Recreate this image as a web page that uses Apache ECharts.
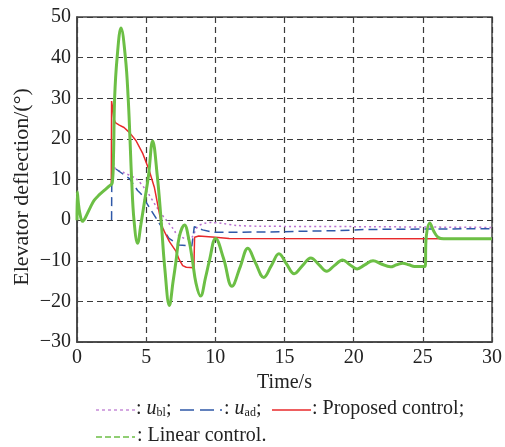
<!DOCTYPE html>
<html><head><meta charset="utf-8">
<script src="https://cdn.jsdelivr.net/npm/echarts@6/dist/echarts.min.js"></script>
<style>html,body{margin:0;padding:0;background:#fff}#c{width:505px;height:447px}</style>
</head><body><div id="c"></div>
<script>
// ---- data ----
var xTicks = [0, 5, 10, 15, 20, 25, 30];
var yTicks = [-30, -20, -10, 0, 10, 20, 30, 40, 50];
var uBl = [[2.72,13.0],[2.8,12.5],[3.3,11.8],[4.26,10.2],[5.0,7.3],[5.95,2.2],[6.55,-0.4],[6.92,-2.0],[7.16,-3.2],[7.52,-4.1],[7.9,-4.6],[8.3,-4.3],[8.72,-1.6],[9.2,-0.8],[9.7,-0.6],[10.5,-0.8],[11.5,-1.3],[13.3,-1.5],[20,-1.6],[30,-1.8]];
var uAd = [[2.5,0],[2.52,14.8],[2.62,14.8],[2.81,12.6],[3.42,11.1],[3.8,10.2],[4.38,7.3],[4.62,6.5],[5.22,3.2],[5.95,-0.8],[6.65,-4.5],[7.37,-6.1],[8.1,-6.3],[8.3,-6.4],[8.48,-1.6],[9.08,-2.4],[9.8,-3.0],[11,-3.0],[13.9,-2.9],[18.7,-2.6],[20.9,-2.3],[30,-2.1]];
var proposed = [[2.48,9.0],[2.5,29.3],[2.58,27.5],[2.66,25],[2.77,24],[3.06,23.4],[3.4,22.8],[3.78,21.6],[4.26,19.6],[4.74,16.5],[5.22,12.2],[5.59,8.1],[6.05,0],[6.2,-2.0],[6.68,-5.3],[7.16,-7.7],[7.4,-9.8],[7.64,-11.2],[7.9,-11.6],[8.45,-11.7],[8.5,-4.2],[8.8,-3.9],[10,-4.2],[11,-4.5],[30,-4.6]];
var linear = [[0,0],[0.02,7.0],[0.1,4.2],[0.2,1.8],[0.4,-0.3],[0.6,0.6],[1.0,3.4],[1.25,4.9],[1.6,6.2],[1.97,7.3],[2.3,8.3],[2.55,9.2],[2.64,16],[2.72,30],[2.9,40],[3.18,47.3],[3.5,40],[3.7,30],[3.83,20],[3.95,10],[4.12,0],[4.38,-5.7],[4.62,-1],[4.9,5],[5.17,11],[5.47,19.5],[5.8,11],[6.08,0],[6.35,-12],[6.68,-21],[6.95,-15],[7.16,-10],[7.4,-4],[7.77,-1.2],[8.1,-5],[8.35,-10],[8.6,-15.5],[8.93,-18.7],[9.3,-14],[9.57,-10],[10.02,-4.5],[10.6,-9.5],[11.2,-16.3],[11.8,-11.5],[12.35,-6.9],[12.9,-10.5],[13.5,-14.1],[14.05,-11.2],[14.6,-8.3],[15.15,-10.8],[15.7,-13.2],[16.3,-11.2],[16.9,-9.3],[17.5,-11],[18.05,-12.6],[18.6,-11.2],[19.2,-9.8],[19.7,-10.9],[20.25,-12.0],[20.8,-11],[21.4,-10.0],[22,-10.8],[22.65,-11.5],[23.1,-11],[23.55,-10.6],[24,-11],[24.4,-11.4],[25.15,-11.4],[25.25,-4],[25.5,-0.7],[25.8,-2.8],[26.1,-4.2],[26.5,-4.6],[30,-4.6]];
var xName = 'Time/s';
var yName = 'Elevator deflection/(°)';

var FONT = 'Liberation Serif';
var C_BL = '#b86fce', C_AD = '#2f58a8', C_PR = '#e8292b', C_LI = '#6cbf45';
var chart = echarts.init(document.getElementById('c'), null, {renderer: 'canvas'});
var gridStyle = {show: true, lineStyle: {color: '#3a3a3a', width: 1.2, type: [6, 4]}};
chart.setOption({
  animation: false,
  backgroundColor: '#fff',
  grid: {left: 77, right: 13, top: 17, bottom: 105, show: true, borderColor: '#444', borderWidth: 1.5},
  xAxis: {
    type: 'value', min: xTicks[0], max: xTicks[xTicks.length - 1], interval: 5,
    name: xName, nameLocation: 'middle', nameGap: 26,
    nameTextStyle: {fontFamily: FONT, fontSize: 20, color: '#222'},
    axisLine: {show: true, onZero: false, lineStyle: {color: '#444', width: 1.5}},
    axisTick: {show: true, inside: true, length: 5, lineStyle: {color: '#444'}},
    axisLabel: {fontFamily: FONT, fontSize: 20, color: '#222', margin: 6},
    splitLine: gridStyle
  },
  yAxis: {
    type: 'value', min: yTicks[0], max: yTicks[yTicks.length - 1], interval: 10,
    axisLine: {show: true, onZero: false, lineStyle: {color: '#444', width: 1.5}},
    axisTick: {show: true, inside: true, length: 5, lineStyle: {color: '#444'}},
    axisLabel: {fontFamily: FONT, fontSize: 20, color: '#222', margin: 6,
      formatter: function (v) { return String(v).replace('-', '\u2212'); }},
    splitLine: gridStyle
  },
  series: [
    {name: 'u_bl', type: 'line', data: uBl, showSymbol: false, smooth: 0.3, lineStyle: {color: C_BL, width: 1.5, type: [2, 3]}, z: 2},
    {name: 'u_ad', type: 'line', data: uAd, showSymbol: false, lineStyle: {color: C_AD, width: 1.5, type: [9, 5]}, z: 3},
    {name: 'Proposed control', type: 'line', data: proposed, showSymbol: false, lineStyle: {color: C_PR, width: 1.5}, z: 4},
    {name: 'Linear control', type: 'line', data: linear, showSymbol: false, smooth: 0.4, lineStyle: {color: C_LI, width: 3}, z: 5}
  ],
  graphic: [
    {type: 'text', x: 22, y: 187, rotation: Math.PI / 2, style: {text: yName, fill: '#222', font: '22px "Liberation Serif"', align: 'center', verticalAlign: 'middle'}},
    {type: 'line', shape: {x1: 96, y1: 410, x2: 135, y2: 410}, style: {stroke: C_BL, lineWidth: 1.2, lineDash: [3, 3]}},
    {type: 'line', shape: {x1: 180, y1: 410, x2: 222, y2: 410}, style: {stroke: C_AD, lineWidth: 1.5, lineDash: [14, 6]}},
    {type: 'line', shape: {x1: 272, y1: 410, x2: 311, y2: 410}, style: {stroke: C_PR, lineWidth: 1.5}},
    {type: 'line', shape: {x1: 96, y1: 437, x2: 135, y2: 437}, style: {stroke: C_LI, lineWidth: 1.5, lineDash: [6, 3]}},
    {type: 'text', left: 136, top: 399, style: {
      text: ': {i|u}{s|bl}; ', fill: '#222', font: '20px "Liberation Serif"',
      rich: {i: {fontStyle: 'italic', fontFamily: FONT, fontSize: 20, fill: '#222'},
             s: {fontFamily: FONT, fontSize: 12, fill: '#222', padding: [8, 0, 0, 0]}}}},
    {type: 'text', left: 224, top: 399, style: {
      text: ': {i|u}{s|ad}; ', fill: '#222', font: '20px "Liberation Serif"',
      rich: {i: {fontStyle: 'italic', fontFamily: FONT, fontSize: 20, fill: '#222'},
             s: {fontFamily: FONT, fontSize: 12, fill: '#222', padding: [8, 0, 0, 0]}}}},
    {type: 'text', left: 312, top: 399, style: {text: ': Proposed control;', fill: '#222', font: '20px "Liberation Serif"'}},
    {type: 'text', left: 137, top: 426, style: {text: ': Linear control.', fill: '#222', font: '20px "Liberation Serif"'}}
  ]
});
</script></body></html>
